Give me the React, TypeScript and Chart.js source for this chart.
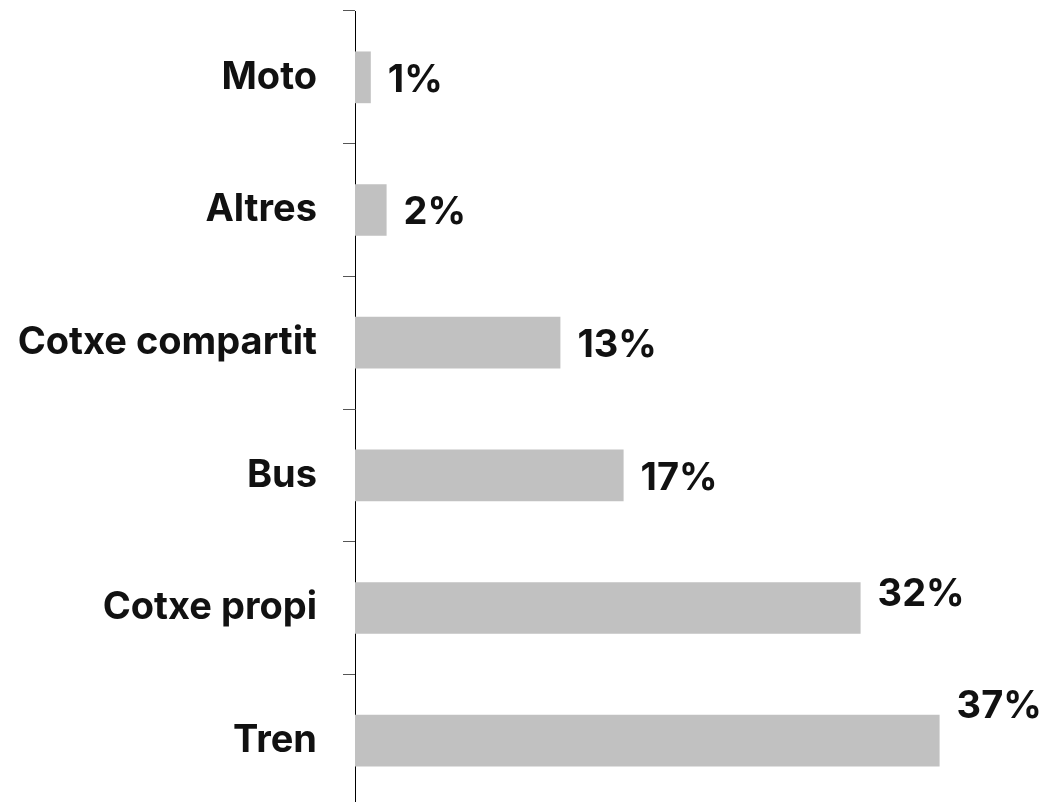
import React, { useEffect, useRef } from "react";
import { Chart, registerables } from "chart.js";

Chart.register(...registerables);

const categories = ["Moto", "Altres", "Cotxe compartit", "Bus", "Cotxe propi", "Tren"];
const shares = [1, 2, 13, 17, 32, 37];
// how each value label sits next to its bar end
const labelPlacement = ["middle", "middle", "middle", "middle", "raised", "above"];

const FONT = "Inter, 'Noto Sans', sans-serif";
const SIZE = 38;

const valueLabels = {
  id: "valueLabels",
  afterDatasetsDraw(chart: any) {
    const ctx = chart.ctx;
    const meta = chart.getDatasetMeta(0);
    ctx.save();
    ctx.font = `bold ${SIZE}px ${FONT}`;
    ctx.fillStyle = "#111";
    ctx.textAlign = "left";
    meta.data.forEach((bar: any, i: number) => {
      const p = bar.getProps(["x", "y", "height"], true);
      const x = p.x + 17;
      const mode = labelPlacement[i];
      if (mode === "middle") {
        ctx.textBaseline = "middle";
        ctx.fillText(`${shares[i]}%`, x, p.y + 3);
      } else if (mode === "raised") {
        ctx.textBaseline = "alphabetic";
        ctx.fillText(`${shares[i]}%`, x, p.y - 2);
      } else {
        ctx.textBaseline = "alphabetic";
        ctx.fillText(`${shares[i]}%`, x, p.y - p.height / 2 + 3);
      }
    });
    ctx.restore();
  },
};

export default function App() {
  const ref = useRef<HTMLCanvasElement | null>(null);
  useEffect(() => {
    if (!ref.current) return;
    const chart = new Chart(ref.current, {
      type: "bar",
      data: {
        labels: categories,
        datasets: [
          {
            data: shares,
            backgroundColor: "#c1c1c1",
            borderWidth: 0,
            barPercentage: 0.39,
            categoryPercentage: 1,
          },
        ],
      },
      options: {
        indexAxis: "y",
        animation: false,
        responsive: true,
        maintainAspectRatio: false,
        layout: { padding: { top: 11, right: 55, bottom: 5, left: 0 } },
        plugins: { legend: { display: false }, tooltip: { enabled: false } },
        scales: {
          x: { display: false, min: 0, max: 40 },
          y: {
            afterFit: (scale: any) => {
              scale.width = 355;
              scale.paddingTop = 0;
              scale.paddingBottom = 0;
            },
            border: { display: true, color: "#000", width: 1 },
            grid: {
              offset: true,
              drawOnChartArea: false,
              drawTicks: true,
              tickLength: 12,
              color: "#555",
            },
            ticks: {
              padding: 26,
              color: "#111",
              font: { family: FONT, size: SIZE, weight: "bold" },
            },
          },
        },
      },
      plugins: [valueLabels],
    });
    return () => chart.destroy();
  }, []);
  return (
    <div style={{ position: "absolute", left: 0, top: 0, width: 1042, height: 802, overflow: "hidden", background: "#fff" }}>
      <div style={{ position: "relative", width: 1042, height: 812 }}>
        <canvas ref={ref} />
      </div>
    </div>
  );
}
